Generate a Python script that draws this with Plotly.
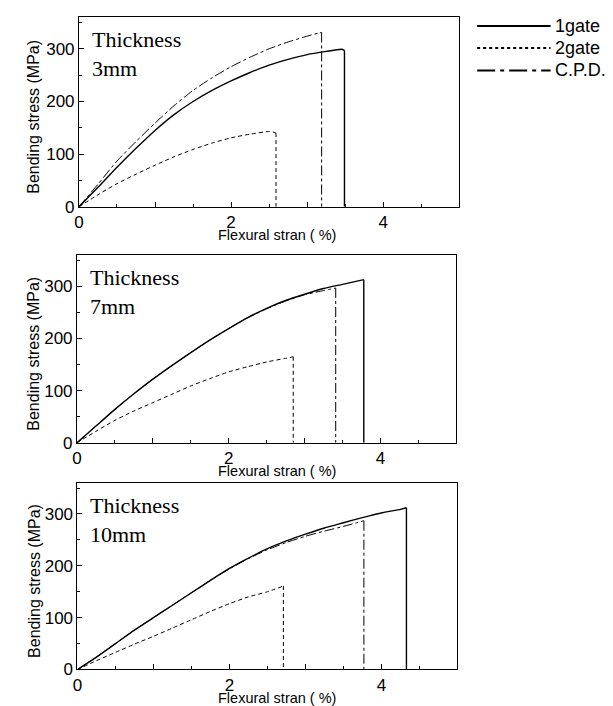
import plotly.graph_objects as go

W, H = 613, 706

# ---------------- data (strain %, stress MPa) ----------------
panel_labels = ["Thickness<br>3mm", "Thickness<br>7mm", "Thickness<br>10mm"]
series_names = ["1gate", "2gate", "C.P.D."]
x_tick_vals = [0, 1, 2, 3, 4, 5]
x_tick_text = ["0", "", "2", "", "4", ""]
y_tick_vals = [0, 100, 200, 300]
y_tick_text = ["0", "100", "200", "300"]

# Thickness 3mm (last point = failure drop to 0)
x_3mm_1gate = [0, 0.25, 0.5, 0.75, 1.0, 1.25, 1.5, 1.75, 2.0, 2.25, 2.5, 2.75, 3.0, 3.25, 3.45, 3.49, 3.49]
y_3mm_1gate = [0, 37, 75, 111, 145, 175, 200, 221, 239, 255, 269, 280, 289, 295, 299, 297, 0]
x_3mm_2gate = [0, 0.25, 0.5, 0.75, 1.0, 1.25, 1.5, 1.75, 2.0, 2.25, 2.5, 2.55, 2.59, 2.59]
y_3mm_2gate = [0, 23, 44, 62, 79, 95, 109, 121, 131, 138, 143, 142, 140, 0]
x_3mm_cpd = [0, 0.25, 0.5, 0.75, 1.0, 1.25, 1.5, 1.75, 2.0, 2.25, 2.5, 2.75, 3.0, 3.15, 3.19, 3.19]
y_3mm_cpd = [0, 43, 87, 124, 159, 192, 221, 245, 266, 284, 300, 313, 324, 330, 331, 0]

# Thickness 7mm
x_7mm_1gate = [0, 0.25, 0.5, 0.75, 1.0, 1.25, 1.5, 1.75, 2.0, 2.25, 2.5, 2.75, 3.0, 3.25, 3.5, 3.78, 3.78]
y_7mm_1gate = [0, 32, 64, 94, 122, 148, 173, 197, 219, 240, 258, 273, 285, 296, 304, 313, 0]
x_7mm_2gate = [0, 0.25, 0.5, 0.75, 1.0, 1.25, 1.5, 1.75, 2.0, 2.25, 2.5, 2.75, 2.85, 2.85]
y_7mm_2gate = [0, 22, 43, 61, 77, 93, 109, 123, 136, 146, 155, 162, 165, 0]
x_7mm_cpd = [0, 0.25, 0.5, 0.75, 1.0, 1.25, 1.5, 1.75, 2.0, 2.25, 2.5, 2.75, 3.0, 3.25, 3.41, 3.41]
y_7mm_cpd = [0, 32, 64, 94, 122, 148, 173, 197, 219, 240, 257, 272, 284, 292, 297, 0]

# Thickness 10mm
x_10mm_1gate = [0, 0.25, 0.5, 0.75, 1.0, 1.25, 1.5, 1.75, 2.0, 2.25, 2.5, 2.75, 3.0, 3.25, 3.5, 3.75, 4.0, 4.25, 4.33, 4.33]
y_10mm_1gate = [0, 24, 50, 76, 100, 124, 148, 172, 195, 215, 233, 248, 261, 273, 283, 293, 302, 309, 312, 0]
x_10mm_2gate = [0, 0.25, 0.5, 0.75, 1.0, 1.25, 1.5, 1.75, 2.0, 2.25, 2.5, 2.71, 2.71]
y_10mm_2gate = [0, 17, 33, 49, 64, 80, 96, 112, 127, 140, 150, 161, 0]
x_10mm_cpd = [0, 0.25, 0.5, 0.75, 1.0, 1.25, 1.5, 1.75, 2.0, 2.25, 2.5, 2.75, 3.0, 3.25, 3.5, 3.77, 3.77]
y_10mm_cpd = [0, 24, 50, 76, 100, 124, 148, 172, 194, 214, 231, 245, 257, 267, 276, 287, 0]

panels = [
    [(x_3mm_1gate, y_3mm_1gate), (x_3mm_2gate, y_3mm_2gate), (x_3mm_cpd, y_3mm_cpd)],
    [(x_7mm_1gate, y_7mm_1gate), (x_7mm_2gate, y_7mm_2gate), (x_7mm_cpd, y_7mm_cpd)],
    [(x_10mm_1gate, y_10mm_1gate), (x_10mm_2gate, y_10mm_2gate), (x_10mm_cpd, y_10mm_cpd)],
]

# ---------------- layout geometry (pixels) ----------------
def fx(p):
    return p / W

def fy(p):
    return 1 - p / H

# (left, right, top, bottom) in pixels
boxes = [(66.5, 450, 9.3, 201.7), (64.5, 447, 250.7, 441), (65, 448, 481.7, 671)]

line_styles = [
    dict(color="black", width=1.4, dash="solid"),
    dict(color="black", width=1, dash="4px,3px"),
    dict(color="black", width=1, dash="10px,3px,3px,3px"),
]

SANS = "Liberation Sans, Arial, sans-serif"
SERIF = "Liberation Serif, Times New Roman, serif"

fig = go.Figure()
layout = dict(
    width=W, height=H,
    margin=dict(l=0, r=0, t=0, b=0),
    paper_bgcolor="white", plot_bgcolor="white",
    showlegend=False,
    font=dict(family=SANS, color="black"),
)
annotations = []
shapes = []

for i, (series, box) in enumerate(zip(panels, boxes)):
    k = "" if i == 0 else str(i + 1)
    l, r, t, b = box
    for (xs, ys), name, ls in zip(series, series_names, line_styles):
        # loading curve (smoothed) up to failure point
        fig.add_trace(go.Scatter(x=xs[:-1], y=ys[:-1], mode="lines", name=name,
                                 line=dict(**ls, shape="spline", smoothing=0.6),
                                 xaxis="x" + k, yaxis="y" + k, hoverinfo="x+y+name"))
        # vertical failure drop
        fig.add_trace(go.Scatter(x=xs[-2:], y=ys[-2:], mode="lines", name=name,
                                 line=dict(**ls, shape="linear"),
                                 xaxis="x" + k, yaxis="y" + k, hoverinfo="x+y+name"))
    layout["xaxis" + k] = dict(
        domain=[fx(l), fx(r)], anchor="y" + k, range=[0, 5],
        showline=True, mirror=True, linecolor="black", linewidth=1,
        ticks="inside", ticklen=5, tickcolor="black",
        tickmode="array", tickvals=x_tick_vals, ticktext=x_tick_text,
        minor=dict(tickmode="array", tickvals=[0.5, 1.5, 2.5, 3.5, 4.5], ticks="inside", ticklen=3, tickcolor="black"),
        tickfont=dict(size=17, family=SANS), showgrid=False, zeroline=False,
    )
    layout["yaxis" + k] = dict(
        domain=[fy(b), fy(t)], anchor="x" + k, range=[0, 360],
        showline=True, mirror=True, linecolor="black", linewidth=1,
        ticks="inside", ticklen=5, tickcolor="black",
        tickmode="array", tickvals=y_tick_vals, ticktext=y_tick_text,
        minor=dict(tickmode="array", tickvals=[50, 150, 250, 350], ticks="inside", ticklen=3, tickcolor="black"),
        tickfont=dict(size=17, family=SANS), showgrid=False, zeroline=False,
    )
    # panel label
    annotations.append(dict(text=panel_labels[i], xref="paper", yref="paper",
                            x=fx(l + 11), y=fy(t + 8), xanchor="left", yanchor="top",
                            align="left", showarrow=False,
                            font=dict(family=SERIF, size=22, color="black")))
    # x title
    annotations.append(dict(text="Flexural stran ( %)", xref="paper", yref="paper",
                            x=fx(266), y=fy(b + 29), xanchor="center", yanchor="middle",
                            showarrow=False, font=dict(family=SANS, size=14.5, color="black")))
    # y title
    annotations.append(dict(text="Bending stress (MPa)", xref="paper", yref="paper",
                            x=fx(21), y=fy((t + b) / 2 + 5), xanchor="center", yanchor="middle",
                            textangle=-90, showarrow=False,
                            font=dict(family=SANS, size=16, color="black")))

# legend (drawn as key lines + labels)
legend_rows = [18.3, 40.7, 63.3]
legend_dash = ["solid", "3px,3px", "18px,5px,4px,5px"]
legend_width = [2, 2, 2]
for name, yy, dsh, wd in zip(series_names, legend_rows, legend_dash, legend_width):
    shapes.append(dict(type="line", xref="paper", yref="paper",
                       x0=fx(468), x1=fx(542), y0=fy(yy), y1=fy(yy),
                       line=dict(color="black", width=wd, dash=dsh)))
    annotations.append(dict(text=name, xref="paper", yref="paper",
                            x=fx(544), y=fy(yy), xanchor="left", yanchor="middle",
                            showarrow=False, font=dict(family=SANS, size=18, color="black")))

layout["annotations"] = annotations
layout["shapes"] = shapes
fig.update_layout(**layout)
fig.write_html("out.html")
